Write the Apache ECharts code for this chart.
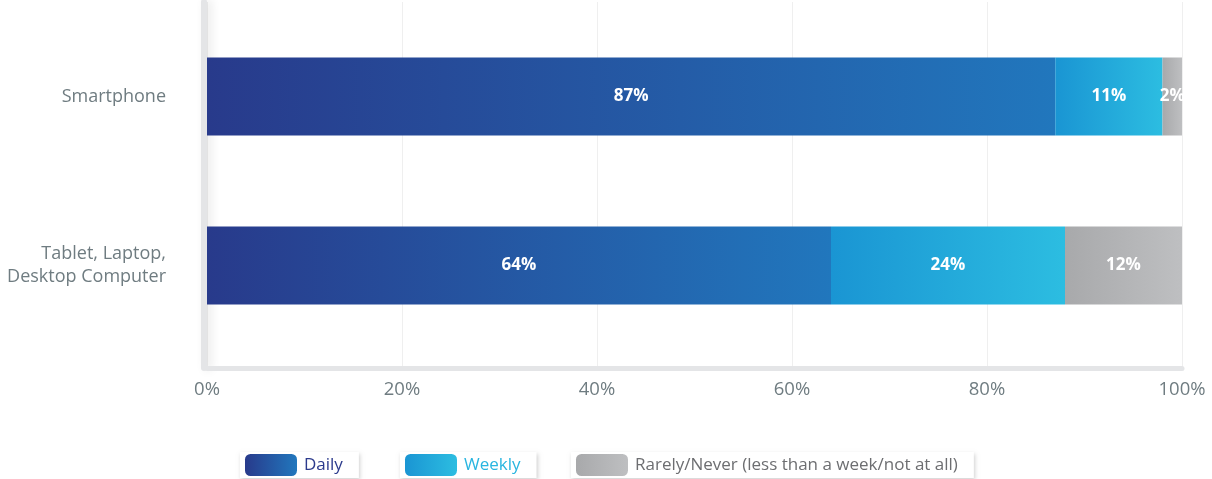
<!DOCTYPE html>
<html>
<head>
<meta charset="utf-8">
<title>Device usage frequency</title>
<script src="https://cdn.jsdelivr.net/npm/echarts@6/dist/echarts.min.js"></script>
<style>
  html, body { margin: 0; padding: 0; background: #ffffff; }
  #chart { width: 1212px; height: 479px; }
</style>
</head>
<body>
<div id="chart"></div>
<script>
// Share of people using each device, by frequency (percent)
const categories = ['Smartphone', 'Tablet, Laptop,\nDesktop Computer'];
const daily = [87, 64];
const weekly = [11, 24];
const rarely = [2, 12];
const seriesNames = ['Daily', 'Weekly', 'Rarely/Never (less than a week/not at all)'];
const xTicks = [0, 20, 40, 60, 80, 100];

const FONT = '"Open Sans", "DejaVu Sans", sans-serif';
const AXIS_GREY = '#e4e5e7';
const TEXT_GREY = '#6f7c81';

function grad(from, to) {
  return new echarts.graphic.LinearGradient(0, 0, 1, 0, [
    { offset: 0, color: from },
    { offset: 1, color: to }
  ]);
}

const barLabel = {
  show: true,
  position: 'inside',
  color: '#ffffff',
  fontFamily: FONT,
  fontWeight: 'bold',
  fontSize: 17,
  formatter: p => p.value + '%'
};

function legendBox(name, left, textColor) {
  return {
    data: [name],
    left: left,
    top: 452,
    orient: 'horizontal',
    icon: 'roundRect',
    itemWidth: 52,
    itemHeight: 22,
    itemGap: 0,
    padding: [2, 16, 2, 5],
    backgroundColor: '#ffffff',
    shadowColor: 'rgba(0,0,0,0.18)',
    shadowBlur: 4,
    shadowOffsetX: 1,
    shadowOffsetY: 2,
    selectedMode: false,
    textStyle: { color: textColor, fontFamily: FONT, fontSize: 17, padding: [0, 0, 0, 2] }
  };
}

const option = {
  backgroundColor: '#ffffff',
  animation: false,
  grid: [
    // bars
    { left: 207, right: 30, top: 12, bottom: 129 },
    // frame: axis rails, grid lines and percentage ticks
    { left: 207, right: 30, top: 2, bottom: 111 }
  ],
  xAxis: [
    {
      gridIndex: 0, type: 'value', min: 0, max: 100, interval: 20,
      axisLine: { show: false }, axisTick: { show: false },
      axisLabel: { show: false }, splitLine: { show: false }
    },
    {
      gridIndex: 1, type: 'value', min: xTicks[0], max: xTicks[xTicks.length - 1], interval: 20,
      offset: 0,
      axisLine: { show: true, onZero: false, lineStyle: { color: AXIS_GREY, width: 5 } },
      axisTick: { show: false },
      splitLine: { show: true, lineStyle: { color: '#efefef', width: 1 } },
      axisLabel: {
        color: TEXT_GREY, fontFamily: FONT, fontSize: 18.5, margin: 12,
        formatter: v => v + '%'
      }
    }
  ],
  yAxis: [
    {
      gridIndex: 0, type: 'category', data: categories, inverse: true,
      axisLine: { show: false }, axisTick: { show: false },
      axisLabel: {
        color: TEXT_GREY, fontFamily: FONT, fontSize: 18, margin: 41,
        align: 'right', lineHeight: 23
      }
    },
    {
      gridIndex: 1, type: 'value', min: 0, max: 1,
      offset: 3,
      axisLine: {
        show: true, onZero: false,
        lineStyle: {
          color: AXIS_GREY, width: 6,
          shadowColor: 'rgba(0,0,0,0.10)', shadowBlur: 10, shadowOffsetX: 4
        }
      },
      axisTick: { show: false }, axisLabel: { show: false }, splitLine: { show: false }
    }
  ],
  legend: [
    legendBox(seriesNames[0], 240, '#2b3a8c'),
    legendBox(seriesNames[1], 400, '#29b5e0'),
    legendBox(seriesNames[2], 571, '#6d6e71')
  ],
  series: [
    {
      name: seriesNames[0], type: 'bar', stack: 'total', barWidth: 78,
      xAxisIndex: 0, yAxisIndex: 0,
      itemStyle: { color: grad('#283a8b', '#2177bd') },
      label: barLabel, data: daily
    },
    {
      name: seriesNames[1], type: 'bar', stack: 'total', barWidth: 78,
      xAxisIndex: 0, yAxisIndex: 0,
      itemStyle: { color: grad('#1a95d3', '#2cbde1') },
      label: barLabel, data: weekly
    },
    {
      name: seriesNames[2], type: 'bar', stack: 'total', barWidth: 78,
      xAxisIndex: 0, yAxisIndex: 0,
      itemStyle: { color: grad('#a8a9ab', '#bebfc1') },
      label: barLabel, data: rarely
    }
  ]
};

const chart = echarts.init(document.getElementById('chart'), null, { renderer: 'canvas' });
chart.setOption(option);
</script>
</body>
</html>
